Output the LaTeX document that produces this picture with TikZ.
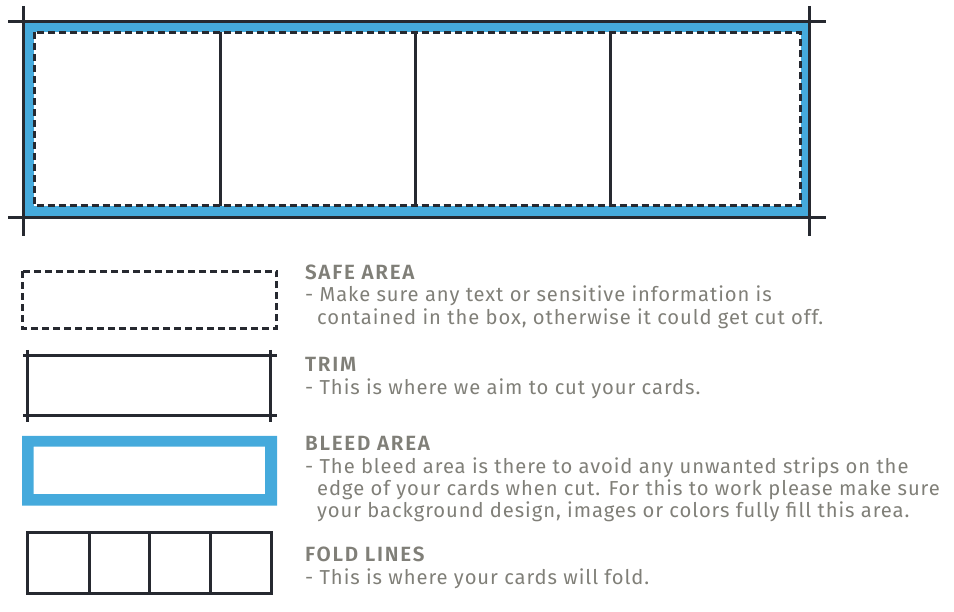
\documentclass[tikz,border=0pt]{standalone}
\usepackage{fontspec}
\setmainfont{Fira Sans}
\newfontfamily\bodyfont[LetterSpace=4.6]{Fira Sans}
\newfontfamily\headfont[LetterSpace=8.4]{Fira Sans SemiBold}
\definecolor{bleedblue}{RGB}{69,170,220}
\definecolor{ink}{RGB}{38,41,48}
\definecolor{txtgray}{RGB}{128,127,120}
\tikzset{
  inkline/.style={draw=ink, line width=3pt},
  safeline/.style={draw=ink, line width=3pt, dash pattern=on 7pt off 4pt},
  head/.style={anchor=base west, inner sep=0pt, text=txtgray, font=\headfont\fontsize{20.6}{24}\selectfont},
  body/.style={anchor=base west, inner sep=0pt, text=txtgray, font=\bodyfont\fontsize{20.2}{22}\selectfont},
}
\begin{document}
\begin{tikzpicture}[x=1pt,y=-1pt]
\useasboundingbox (0,0) rectangle (954,612);
% main layout
\fill[bleedblue] (23.3,21.5) rectangle (809,218);
\fill[white] (34.3,32.3) rectangle (800.5,206);
\draw[safeline] (34.3,32.3) rectangle (800.5,206);
\draw[inkline] (220,32.3) -- (220,206);
\draw[inkline] (415,32.3) -- (415,206);
\draw[inkline] (610,32.3) -- (610,206);
\draw[inkline] (8,21.5) -- (826,21.5);
\draw[inkline] (8,218) -- (826,218);
\draw[inkline] (23.3,6) -- (23.3,236);
\draw[inkline] (809,6) -- (809,236);
% legend: safe area
\draw[safeline] (22.5,271.5) rectangle (276.5,329);
% legend: trim
\draw[inkline] (23,355.7) -- (277,355.7);
\draw[inkline] (23,415.7) -- (277,415.7);
\draw[inkline] (27.7,350) -- (27.7,421.7);
\draw[inkline] (270.7,350) -- (270.7,421.7);
% legend: bleed
\fill[bleedblue, even odd rule] (22,436) rectangle (277,505.7) (33.7,446.7) rectangle (265,494);
% legend: fold lines
\draw[inkline] (27.7,532.3) rectangle (271.7,593.3);
\draw[inkline] (89,532.3) -- (89,593.3);
\draw[inkline] (149.3,532.3) -- (149.3,593.3);
\draw[inkline] (210,532.3) -- (210,593.3);
% texts
\node[head] (h1) at (305,280) {SAFE AREA};
\node[body] (b1a) at (305,302) {- Make sure any text or sensitive information is};
\node[body] (b1b) at (317,325) {contained in the box, otherwise it could get cut off.};
\node[head] (h2) at (305,372) {TRIM};
\node[body] (b2a) at (305,395) {- This is where we aim to cut your cards.};
\node[head] (h3) at (305,451) {BLEED AREA};
\node[body] (b3a) at (305,473) {- The bleed area is there to avoid any unwanted strips on the};
\node[body] (b3b) at (317,496) {edge of your cards when cut. For this to work please make sure};
\node[body] (b3c) at (317,518) {your background design, images or colors fully fill this area.};
\node[head] (h4) at (305,561) {FOLD LINES};
\node[body] (b4a) at (305,584) {- This is where your cards will fold.};
\end{tikzpicture}
\end{document}
